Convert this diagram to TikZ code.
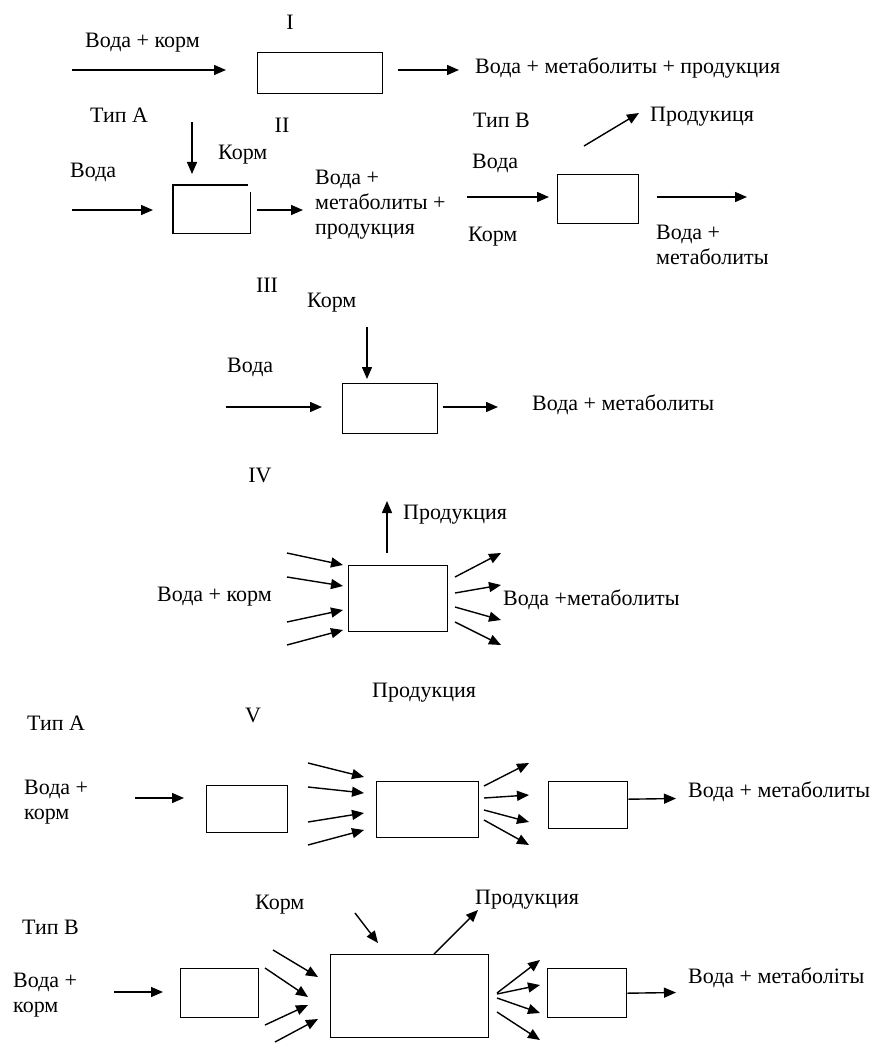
\documentclass[tikz,border=0pt]{standalone}
\usepackage{fontspec}
\setmainfont{Liberation Serif}
\usetikzlibrary{arrows.meta}
\tikzset{
  flow/.style={line width=1.4pt, -{Triangle[length=12pt,width=10pt]}},
  boxline/.style={line width=1.4pt},
  box/.style={draw, line width=1.4pt, inner sep=0pt, anchor=north west},
  lbl/.style={inner sep=0pt, anchor=west, font=\fontsize{22}{25}\selectfont, align=left},
  num/.style={inner sep=0pt, anchor=center, font=\fontsize{22}{25}\selectfont},
}
\begin{document}
\begin{tikzpicture}[x=1pt,y=-1pt]
\useasboundingbox (0,0) rectangle (877,1043);

% ---------- I ----------
\node[num] (nI) at (290,22) {I};
\node[lbl] (t1in) at (85,43) {Вода + корм};
\node[box, minimum width=125pt, minimum height=41pt] (b1) at (257,52) {};
\node[lbl] (t1out) at (475,68) {Вода + метаболиты + продукция};
\coordinate (a1s) at (72,70);  \coordinate (a1e) at (226,70);
\coordinate (a2s) at (398,70); \coordinate (a2e) at (459,70);
\draw[flow] (a1s) -- (a1e);
\draw[flow] (a2s) -- (a2e);

% ---------- II type A ----------
\node[lbl] (tA1) at (90,115) {Тип А};
\node[num] (nII) at (282,125) {II};
\node[lbl] (t2korm) at (218,155) {Корм};
\node[lbl] (t2voda) at (70,172) {Вода};
\node[inner sep=0pt, minimum width=77pt, minimum height=48pt, anchor=north west] (b2) at (173,185) {};
\draw[boxline] ([xshift=-2pt]b2.north east) -- (b2.north west) -- (b2.south west) -- (b2.south east) -- ([yshift=-7pt]b2.north east);
\node[lbl] (t2out) at (315,205) {Вода +\\метаболиты +\\продукция};
\coordinate (a3s) at (192,122); \coordinate (a3e) at (192,174);
\coordinate (a4s) at (72,210);  \coordinate (a4e) at (153,210);
\coordinate (a5s) at (257,210); \coordinate (a5e) at (303,210);
\draw[flow] (a3s) -- (a3e);
\draw[flow] (a4s) -- (a4e);
\draw[flow] (a5s) -- (a5e);

% ---------- II type B ----------
\node[lbl] (tB1) at (473,120) {Тип В};
\node[lbl] (tB1prod) at (650,117) {Продукиця};
\node[lbl] (tB1voda) at (472,163) {Вода};
\node[lbl] (tB1korm) at (468,237) {Корм};
\node[box, minimum width=81pt, minimum height=49pt] (bB1) at (557,174) {};
\node[lbl] (tB1out) at (656,245) {Вода +\\метаболиты};
\coordinate (a6s) at (584,146); \coordinate (a6e) at (639,113);
\coordinate (a7s) at (467,197); \coordinate (a7e) at (549,197);
\coordinate (a8s) at (657,197); \coordinate (a8e) at (747,197);
\draw[flow] (a6s) -- (a6e);
\draw[flow] (a7s) -- (a7e);
\draw[flow] (a8s) -- (a8e);

% ---------- III ----------
\node[num] (nIII) at (267,285) {III};
\node[lbl] (t3korm) at (307,303) {Корм};
\node[lbl] (t3voda) at (227,367) {Вода};
\node[box, minimum width=95pt, minimum height=50pt] (b3) at (342,383) {};
\node[lbl] (t3out) at (532,405) {Вода + метаболиты};
\coordinate (a9s) at (367,327);  \coordinate (a9e) at (367,379);
\coordinate (a10s) at (226,407); \coordinate (a10e) at (322,407);
\coordinate (a11s) at (443,407); \coordinate (a11e) at (498,407);
\draw[flow] (a9s) -- (a9e);
\draw[flow] (a10s) -- (a10e);
\draw[flow] (a11s) -- (a11e);

% ---------- IV ----------
\node[num] (nIV) at (260,475) {IV};
\node[lbl] (t4prod) at (403,515) {Продукция};
\node[box, minimum width=99pt, minimum height=66pt] (b4) at (348,565) {};
\node[lbl] (t4in) at (157,597) {Вода + корм};
\node[lbl] (t4out) at (503,600) {Вода +метаболиты};
\coordinate (a12s) at (387,553); \coordinate (a12e) at (387,501);
\draw[flow] (a12s) -- (a12e);
\foreach \i/\ys/\ye in {1/553/565, 2/577/586, 3/622/610, 4/645/630}{
  \coordinate (in4s\i) at (287,\ys); \coordinate (in4e\i) at (343,\ye);
  \draw[flow] (in4s\i) -- (in4e\i);
}
\foreach \i/\ys/\ye in {1/577/553, 2/593/585, 3/607/620, 4/622/645}{
  \coordinate (out4s\i) at (455,\ys); \coordinate (out4e\i) at (501,\ye);
  \draw[flow] (out4s\i) -- (out4e\i);
}

% ---------- V type A ----------
\node[lbl] (t5prod) at (372,693) {Продукция};
\node[lbl] (tA5) at (27,723) {Тип А};
\node[num] (nV) at (253,715) {V};
\node[lbl] (t5in) at (24,802) {Вода +\\корм};
\node[box, minimum width=81pt, minimum height=47pt] (v1) at (206,785) {};
\node[box, minimum width=102pt, minimum height=56pt] (v2) at (376,781) {};
\node[box, minimum width=79pt, minimum height=47pt] (v3) at (548,781) {};
\node[lbl] (t5out) at (688,792) {Вода + метаболиты};
\coordinate (a13s) at (135,798); \coordinate (a13e) at (184,798);
\draw[flow] (a13s) -- (a13e);
\foreach \i/\ys/\ye in {1/763/777, 2/787/793, 3/822/813, 4/845/830}{
  \coordinate (in5s\i) at (308,\ys); \coordinate (in5e\i) at (364,\ye);
  \draw[flow] (in5s\i) -- (in5e\i);
}
\foreach \i/\ys/\ye in {1/786/763, 2/798/795, 3/810/822, 4/820/845}{
  \coordinate (out5s\i) at (484,\ys); \coordinate (out5e\i) at (529,\ye);
  \draw[flow] (out5s\i) -- (out5e\i);
}
\coordinate (a14e) at (676,798.5);
\draw[flow] ([yshift=6pt]v3.east) -- (a14e);

% ---------- V type B ----------
\node[lbl] (tB5korm) at (255,905) {Корм};
\node[lbl] (tB5prod) at (475,900) {Продукция};
\node[lbl] (tB5) at (22,927) {Тип В};
\node[lbl] (tB5in) at (13,995) {Вода +\\корм};
\node[box, minimum width=78pt, minimum height=49pt] (w1) at (180,968) {};
\node[box, minimum width=158pt, minimum height=83pt] (w2) at (330,954) {};
\node[box, minimum width=79pt, minimum height=49pt] (w3) at (547,968) {};
\node[lbl] (tB5out) at (688,978) {Вода + метаболіты};
\coordinate (a15s) at (114,992); \coordinate (a15e) at (163,992);
\draw[flow] (a15s) -- (a15e);
\coordinate (a16s) at (355,913); \coordinate (a16e) at (378,943);
\draw[flow] (a16s) -- (a16e);
\coordinate (a17s) at (434,954); \coordinate (a17e) at (478,910);
\draw[flow] (a17s) -- (a17e);
\foreach \i/\xs/\ys/\xe/\ye in {1/273/950/318/977, 2/265/968/308/997, 3/265/1025/308/1005, 4/275/1042/318/1019}{
  \coordinate (in6s\i) at (\xs,\ys); \coordinate (in6e\i) at (\xe,\ye);
  \draw[flow] (in6s\i) -- (in6e\i);
}
\foreach \i/\ys/\ye in {1/993/960, 2/994/985, 3/998/1013, 4/1012/1040}{
  \coordinate (out6s\i) at (497,\ys); \coordinate (out6e\i) at (540,\ye);
  \draw[flow] (out6s\i) -- (out6e\i);
}
\coordinate (a18e) at (676,992.5);
\draw[flow] (w3.east) -- (a18e);
\end{tikzpicture}
\end{document}
